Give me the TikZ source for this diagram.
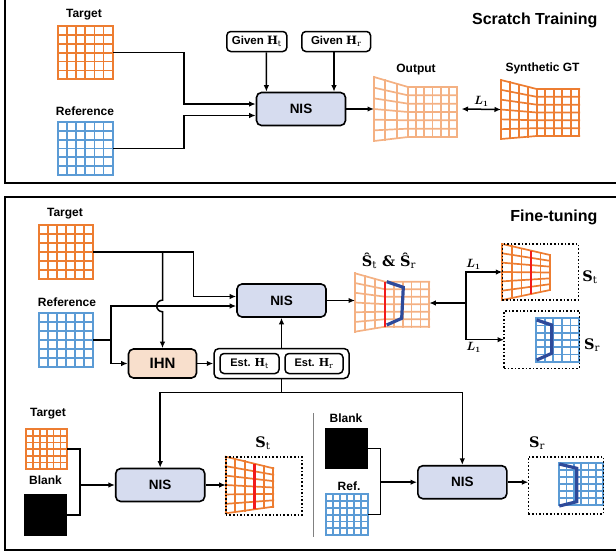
\documentclass[tikz,border=0pt]{standalone}
\usepackage{fontspec}
\usepackage{amsmath}
\newfontfamily\labelfont{Liberation Sans}
\newfontfamily\symfont{DejaVu Serif}
\usetikzlibrary{arrows.meta}

\definecolor{gridorange}{HTML}{ED7D31}
\definecolor{gridlight}{HTML}{F4B183}
\definecolor{gridblue}{HTML}{5B9BD5}
\definecolor{nisfill}{HTML}{D6DCEF}
\definecolor{ihnfill}{HTML}{F8DFCC}
\definecolor{cutred}{HTML}{F21B1B}
\definecolor{cutblue}{HTML}{2E4A9A}

% bold serif letter with upright subscript
\newcommand\bsub[2]{{\symfont\bfseries #1}\textsubscript{\symfont\mdseries #2}}

% name, style, xL, xK, xR, yLt, yLb, yRt/yRb, nL/nR
\def\gsplit#1/#2\relax{\def\ga{#1}\def\gb{#2}}
\newcommand\warpgrid[9]{%
  \gsplit#8\relax \let\gyt\ga \let\gyb\gb
  \gsplit#9\relax \let\gnl\ga \let\gnr\gb
  \node[imgbox, minimum width={(#5-#3)*1pt}, minimum height={(#7-#6)*1pt}] (#1) at ({(#3+#5)/2},{(#6+#7)/2}) {};
  \foreach \r in {0,...,6}
    \draw[#2] (#3,{#6+\r*(#7-#6)/6}) -- (#4,{\gyt+\r*(\gyb-\gyt)/6}) -- (#5,{\gyt+\r*(\gyb-\gyt)/6});
  \foreach \c in {0,...,\gnl}
    \draw[#2] ({#3+\c*(#4-#3)/\gnl},{#6+\c*(\gyt-#6)/\gnl}) -- ({#3+\c*(#4-#3)/\gnl},{#7+\c*(\gyb-#7)/\gnl});
  \foreach \c in {1,...,\gnr}
    \draw[#2] ({#4+\c*(#5-#4)/\gnr},\gyt) -- ({#4+\c*(#5-#4)/\gnr},\gyb);
}

\tikzset{
  lab/.style={font=\labelfont\bfseries\fontsize{12}{14}\selectfont, inner sep=1pt},
  head/.style={font=\labelfont\bfseries\fontsize{16}{18}\selectfont, anchor=east},
  net/.style={draw, line width=1.6pt, rounded corners=5pt, fill=nisfill, minimum width=89pt, minimum height=33pt, font=\labelfont\bfseries\fontsize{13.5}{16}\selectfont},
  ihnbox/.style={net, fill=ihnfill, minimum width=68pt, minimum height=29pt, font=\labelfont\bfseries\fontsize{15}{17}\selectfont},
  hbox/.style={draw, line width=1.5pt, rounded corners=4pt, fill=white, minimum height=20pt, inner xsep=2pt, font=\labelfont\bfseries\fontsize{11.5}{13}\selectfont},
  imgbox/.style={inner sep=0pt, outer sep=0pt},
  blankbox/.style={imgbox, fill=black},
  dotbox/.style={draw, dotted, line width=1.6pt, inner sep=0pt, outer sep=0pt},
  og/.style={gridorange, line width=1.7pt, line cap=rect},
  lg/.style={gridlight, line width=1.7pt, line cap=rect},
  bg/.style={gridblue, line width=1.7pt, line cap=rect},
  cutr/.style={cutred, line width=2.8pt},
  cutb/.style={cutblue, line width=3.2pt},
  conn/.style={->, line width=1.5pt},
  symb/.style={font=\symfont\bfseries\fontsize{14.5}{17}\selectfont},
  lmath/.style={font=\boldmath\fontsize{11.5}{13}\selectfont, inner sep=2pt}
}

\begin{document}
\begin{tikzpicture}[x=1pt, y=-1pt, >={Latex[length=6.5pt,width=5.5pt]}]
\useasboundingbox (0,0) rectangle (616,554);
% panels
\draw[line width=1.8pt] (4.7,-10) rectangle (630,183);
\draw[line width=1.8pt] (4.7,197.3) rectangle (630,550);

% scratch training
\node[head] (ttlA) at (601,20) {Scratch Training};
\node[lab] (tgtAl) at (84,15) {Target};
\node[lab] (refAl) at (85,111) {Reference};
\warpgrid{tgtA}{og}{57.8}{112.8}{112.8}{26}{79.3}{26/79.3}{6/1}
\warpgrid{refA}{bg}{57.8}{112.8}{112.8}{122}{175}{122/175}{6/1}
\node[net] (nisA) at (301,109) {NIS};
\node[hbox, minimum width=60pt] (givenT) at (256.8,41.5) {Given \bsub{H}{t}};
\node[hbox, minimum width=68.7pt] (givenR) at (336.2,41.5) {Given \bsub{H}{r}};
\node[lab] (outAl) at (416,70) {Output};
\warpgrid{outA}{lg}{374}{408}{457}{77}{141}{87/137}{3/6}
\node[lab] (gtAl) at (542.5,68) {Synthetic GT};
\warpgrid{gtA}{og}{501}{536.7}{579.3}{80}{139}{89/136}{4/5}

\draw[conn] (tgtA.east) -- ++(71.2,0) |- ([yshift=5pt]nisA.west);
\draw[conn] (refA.east) -- ++(71.2,0) |- ([yshift=-6.5pt]nisA.west);
\draw[conn] ([xshift=9.6pt]givenT.south) -- ([xshift=-34.6pt]nisA.north);
\draw[conn] ([xshift=-2.2pt]givenR.south) -- ([xshift=33pt]nisA.north);
\draw[conn] (nisA) -- (outA);
\draw[<->, line width=1.5pt] ([xshift=4.5pt]outA.east) -- node[above, lmath] {$L_1$} (gtA.west);

% fine-tuning
\node[head] (ttlB) at (601,217) {Fine-tuning};
\node[lab] (tgtBl) at (65,214) {Target};
\node[lab] (refBl) at (67,302) {Reference};
\warpgrid{tgtB}{og}{39.3}{93}{93}{225}{279.3}{225/279.3}{6/1}
\warpgrid{refB}{bg}{39.3}{93}{93}{313}{366.7}{313/366.7}{6/1}
\node[net] (nisB) at (281.5,300.5) {NIS};
\node[ihnbox] (ihn) at (162.5,363.5) {IHN};
\node[draw, line width=1.5pt, rounded corners=5pt, minimum width=135pt, minimum height=30pt] (est) at (281.5,363.5) {};
\node[hbox, minimum width=59pt, font=\labelfont\bfseries\fontsize{11}{13}\selectfont] (estT) at (249.5,363.5) {Est. \bsub{H}{t}};
\node[hbox, minimum width=58pt, font=\labelfont\bfseries\fontsize{11}{13}\selectfont] (estR) at (314,363.5) {Est. \bsub{H}{r}};

\node[symb] (shatl) at (389,261) {\bsub{\^S}{t} \& \bsub{\^S}{r}};
\warpgrid{shat}{lg}{355}{385}{429.3}{273.3}{331.7}{281.7/326.7}{3/5}
\draw[cutr] (385,281.7) -- (385,326.7);
\draw[cutb] (386.7,281.7) -- (403.3,287.3) -- (401.7,318.3) -- (386.7,325);

\warpgrid{st1g}{og}{502.3}{550}{550}{244}{300}{255/290}{5/1}
\draw[cutr] (530.9,250.6) -- (530.9,294);
\node[dotbox, minimum width=76pt, minimum height=56pt] (st1) at (540.3,272) {};
\node[symb] (st1l) at (590,277) {\bsub{S}{t}};
\warpgrid{sr1g}{bg}{536}{579.3}{579.3}{318.3}{361.7}{318.3/361.7}{5/1}
\draw[cutb] (536.7,320) -- (551.7,325) -- (551.7,353.3) -- (536.7,360);
\node[dotbox, minimum width=75.3pt, minimum height=57.3pt] (sr1) at (541.7,339.7) {};
\node[symb] (sr1l) at (592,345) {\bsub{S}{r}};

\draw[conn] (tgtB.east) -- ++(100.3,0) |- ([yshift=4pt]nisB.west);
\draw[conn] (tgtB.east -| ihn.north) -- ++(0,48) arc[start angle=270, end angle=90, radius=5.8] -- (ihn.north);
\draw[conn] (refB.east) -- ++(17.8,0) |- ([yshift=-5.5pt]nisB.west);
\draw[conn] (refB.east) -- ++(17.8,0) |- (ihn.west);
\draw[conn] (ihn) -- (est);
\draw[conn] (est) -- (nisB);
\draw[conn] (nisB.east) -- (nisB.east -| shat.west);
\coordinate (jL) at (466,303);
\draw[conn] (jL) -- (jL -| shat.east);
\draw[conn] (jL) |- node[pos=0.6, above, lmath] {$L_1$} (st1.west);
\draw[conn] (jL) |- node[pos=0.6, below, lmath] {$L_1$} (sr1.west);

% per-image runs
\node[lab] (tgtCl) at (48,413.3) {Target};
\warpgrid{tgtC}{og}{26.3}{67.2}{67.2}{429}{469.3}{429/469.3}{6/1}
\node[lab] (blankCl) at (45.5,480) {Blank};
\node[blankbox, minimum width=42.4pt, minimum height=42pt] (blankC) at (45.6,515) {};
\node[net] (nisC) at (160.2,485) {NIS};
\node[symb] (st2l) at (263,443.3) {\bsub{S}{t}};
\warpgrid{st2g}{og}{225.7}{273.3}{273.3}{456.7}{513.3}{468.3/506.7}{5/1}
\draw[cutr] (254.3,463.7) -- (254.3,509.3);
\node[dotbox, minimum width=76pt, minimum height=58.3pt] (st2) at (263.7,485.9) {};

\draw[gray, line width=0.6pt] (313.2,413) -- (313.2,536.7);

\node[lab] (blankDl) at (346,418.3) {Blank};
\node[blankbox, minimum width=42.9pt, minimum height=41.6pt] (blankD) at (346.8,448.5) {};
\node[lab] (refDl) at (349,486) {Ref.};
\warpgrid{refD}{bg}{326}{368.2}{368.2}{494.3}{535}{494.3/535}{6/1}
\node[net] (nisD) at (462.3,482.2) {NIS};
\node[symb] (sr2l) at (537,443.3) {\bsub{S}{r}};
\warpgrid{sr2g}{bg}{559.3}{603.3}{603.3}{463.3}{505}{463.3/505}{6/1}
\draw[cutb] (559.3,464) -- (576.7,468.3) -- (576.7,501.7) -- (559.3,506);
\node[dotbox, minimum width=75pt, minimum height=57.3pt] (sr2) at (565.8,485.4) {};

\draw[line width=1.5pt] (est.south) -- ++(0,13.4) coordinate (bus);
\draw[conn] (bus) -| (nisC.north);
\draw[conn] (bus) -| (nisD.north);
\draw[line width=1.5pt] (tgtC.east) -- ++(12.6,0) |- (blankC.east);
\draw[conn] (tgtC.east) ++(12.6,0) |- (nisC.west);
\draw[conn] (nisC.east) -- (nisC.east -| st2.west);
\draw[line width=1.5pt] (blankD.east) -- ++(12.2,0) |- (refD.east);
\draw[conn] (blankD.east) ++(12.2,0) |- (nisD.west);
\draw[conn] (nisD.east) -- (nisD.east -| sr2.west);
\end{tikzpicture}
\end{document}
